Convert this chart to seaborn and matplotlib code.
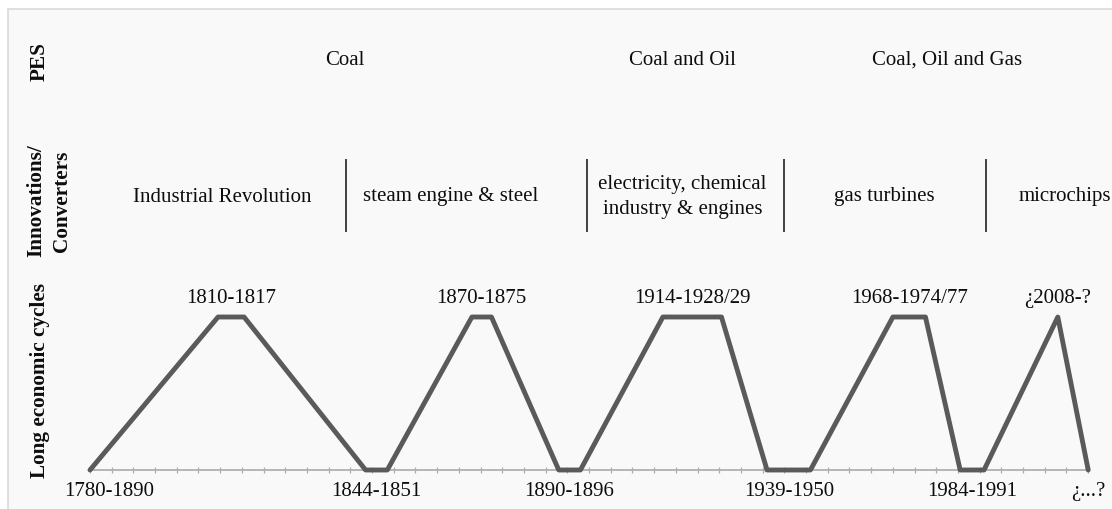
import matplotlib
matplotlib.use("Agg")
import matplotlib.pyplot as plt
import seaborn as sns
import pandas as pd
from matplotlib.patches import Rectangle

# ---- data ----
cycle_x = [0, 5.9, 7.1, 12.7, 13.7, 17.6, 18.5, 21.6, 22.6, 26.4, 29.1,
           31.2, 33.2, 37.0, 38.5, 40.1, 41.2, 44.6, 46.0]
cycle_y = [0, 1, 1, 0, 0, 1, 1, 0, 0, 1, 1, 0, 0, 1, 1, 0, 0, 1, 0]

peak_labels = ["1810-1817", "1870-1875", "1914-1928/29", "1968-1974/77", "¿2008-?"]
trough_labels = ["1780-1890", "1844-1851", "1890-1896", "1939-1950", "1984-1991", "¿...?"]

pes_labels = ["Coal", "Coal and Oil", "Coal, Oil and Gas"]
pes_x = [11.75, 27.3, 39.5]

innov_labels = ["Industrial Revolution", "steam engine & steel",
                "electricity, chemical\nindustry & engines", "gas turbines", "microchips"]
innov_x = [6.1, 16.6, 27.3, 36.6, 42.8]
innov_breaks = [11.8, 22.9, 32.0, 41.3]

row_labels = ["PES", "Innovations/\nConverters", "Long economic cycles"]

n_ticks = 47

# ---- figure ----
sns.set_theme(style="white")
plt.rcParams['font.family'] = ['Liberation Serif', 'DejaVu Serif']

fig = plt.figure(figsize=(11.12, 5.10), dpi=100)
fig.patch.set_facecolor("white")
bg = Rectangle((8 / 1112, -0.02), 1.05, 1 - 10 / 510 + 0.02,
               transform=fig.transFigure, facecolor="#f9f9f9",
               edgecolor="#d9d9d9", linewidth=1.2, zorder=-5)
fig.add_artist(bg)

ax = fig.add_axes([0, 0, 1, 1])
ax.set_zorder(2)
ax.set_facecolor("none")
ax.patch.set_alpha(0)
ax.set_xlim(-90 / 21.7, (1112 - 90) / 21.7)
ax.set_ylim(-39 / 153, 471 / 153)

df = pd.DataFrame({"x": cycle_x, "y": cycle_y})
sns.lineplot(data=df, x="x", y="y", sort=False, ax=ax, color="#5a5a5a",
             linewidth=3.5, zorder=3)

# baseline axis with minor ticks
for s in ["top", "right", "left"]:
    ax.spines[s].set_visible(False)
ax.spines["bottom"].set_position(("data", 0))
ax.spines["bottom"].set_bounds(0, n_ticks - 1)
ax.spines["bottom"].set_color("#b0b0b0")
ax.spines["bottom"].set_linewidth(1.3)
ax.set_xticks(range(n_ticks))
ax.set_xticklabels([])
ax.set_yticks([])
ax.tick_params(axis="x", bottom=True, direction="inout", length=5, width=0.9,
               color="#aaaaaa")
ax.set_xlabel("")
ax.set_ylabel("")

fs = 15
txt_color = "#0d0d0d"
# peak labels at plateau centres
peaks = []
i = 0
while i < len(cycle_y):
    if cycle_y[i] == 1:
        j = i
        while j + 1 < len(cycle_y) and cycle_y[j + 1] == 1:
            j += 1
        peaks.append((cycle_x[i] + cycle_x[j]) / 2)
        i = j + 1
    else:
        i += 1
troughs = []
i = 0
while i < len(cycle_y):
    if cycle_y[i] == 0:
        j = i
        while j + 1 < len(cycle_y) and cycle_y[j + 1] == 0:
            j += 1
        troughs.append((cycle_x[i] + cycle_x[j]) / 2)
        i = j + 1
    else:
        i += 1

for px, lab in zip(peaks, peak_labels):
    ax.annotate(lab, (px, 1), xytext=(0, 14), textcoords="offset points",
                ha="center", va="center", fontsize=fs, color=txt_color)
for k, (tx, lab) in enumerate(zip(troughs, trough_labels)):
    dx = 14 if k == 0 else 0
    ax.annotate(lab, (tx, 0), xytext=(dx, -15), textcoords="offset points",
                ha="center", va="center", fontsize=fs, color=txt_color)

# PES row
y_pes = (471 - 60) / 153
for x, lab in zip(pes_x, pes_labels):
    ax.text(x, y_pes, lab, ha="center", va="center", fontsize=fs, color=txt_color)

# innovations row
y_inn = (471 - 197) / 153
for k, (x, lab) in enumerate(zip(innov_x, innov_labels)):
    ha = "left" if k == len(innov_labels) - 1 else "center"
    ax.text(x, y_inn, lab, ha=ha, va="center", fontsize=fs, color=txt_color,
            linespacing=1.45, clip_on=False)
ax.vlines(innov_breaks, (471 - 233) / 153, (471 - 160) / 153, color="#333333",
          linewidth=1.3)

# row labels
row_y = [(471 - 62) / 153, (471 - 201) / 153, (471 - 380) / 153]
row_x = [40 / 1112, 49 / 1112, 40 / 1112]
for rx, ry, lab in zip(row_x, row_y, row_labels):
    ax.text(rx, ry, lab, transform=ax.get_yaxis_transform(), rotation=90,
            ha="center", va="center", fontsize=15.3, fontweight="bold",
            color=txt_color, linespacing=1.35)

fig.savefig("out.png", dpi=100, facecolor=fig.get_facecolor())
